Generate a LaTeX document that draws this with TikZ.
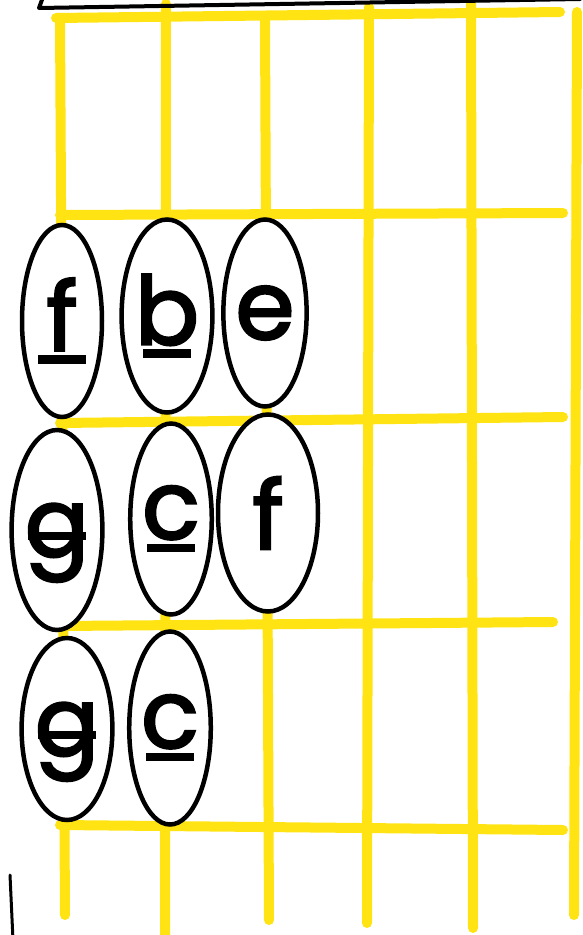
\documentclass[tikz,border=0pt]{standalone}
\usepackage{fontspec}
\setmainfont{Poppins}
\usepackage{tikz}
\usetikzlibrary{shapes.geometric}
\definecolor{fretyellow}{HTML}{FFE312}
\definecolor{inkblack}{HTML}{000000}
\newcommand{\ulnote}[1]{\ooalign{#1\cr\hidewidth\rule[-0.14em]{0.5em}{0.09em}\hidewidth\cr}}
\newcommand{\barnote}[1]{\ooalign{#1\cr\hidewidth\rule[0.17em]{0.62em}{0.09em}\hidewidth\cr}}
\tikzset{
  fret/.style={
    draw=fretyellow,
    line width=10pt,
    line cap=round
  },
  ink/.style={
    draw=inkblack,
    line width=3.5pt,
    line cap=round,
    line join=round
  },
  note/.style={
    ellipse,
    draw=inkblack,
    fill=white,
    line width=4.5pt,
    inner sep=0pt,
    minimum width=80pt,
    minimum height=192pt,
    font=\fontsize{95}{95}\selectfont\addfontfeatures{FakeBold=2.5}
  }
}

\begin{document}
\begin{tikzpicture}[x=1pt, y=-1pt]
  \useasboundingbox (0,0) rectangle (583,935);

  % strings
  \draw[fret] (60,18) -- (65,915);
  \draw[fret] (166,4) -- (165,945);
  \draw[fret] (265,20) -- (269,920);
  \draw[fret] (369,7) -- (367,923);
  \draw[fret] (471,-2) -- (473,928);
  \draw[fret] (577,12) -- (574,915);

  % frets
  \draw[fret] (56,18) -- (560,12);
  \draw[fret] (60,215) -- (563,213);
  \draw[fret] (60,423) -- (563,417);
  \draw[fret] (60,626) -- (553,622);
  \draw[fret] (60,825) -- (563,830);

  % nut and stray mark
  \draw[ink, line width=4pt] (43,-3) -- (39,8) -- (580,-1);
  \draw[ink, line width=3pt] (10,875) -- (13,940);

  % notes
  \node[note] (note1f) at (62,321) {\ulnote{f}};
  \node[note, minimum width=79pt, minimum height=193pt] (note1b) at (167,316) {\ulnote{b}};
  \node[note, minimum width=76pt, minimum height=187pt] (note1e) at (265,313) {e};

  \node[note, minimum width=87pt, minimum height=200pt] (note2g) at (57,530) {\barnote{g}};
  \node[note, minimum width=78pt, minimum height=191pt] (note2c) at (171,519) {\ulnote{c}};
  \node[note, minimum width=100pt, minimum height=197pt] (note2f) at (268,513) {f};

  \node[note, minimum height=182pt] (note3g) at (67,729) {\barnote{g}};
  \node[note, minimum width=66pt, minimum height=193pt] (note3c) at (170,728) {\ulnote{c}};
\end{tikzpicture}
\end{document}
